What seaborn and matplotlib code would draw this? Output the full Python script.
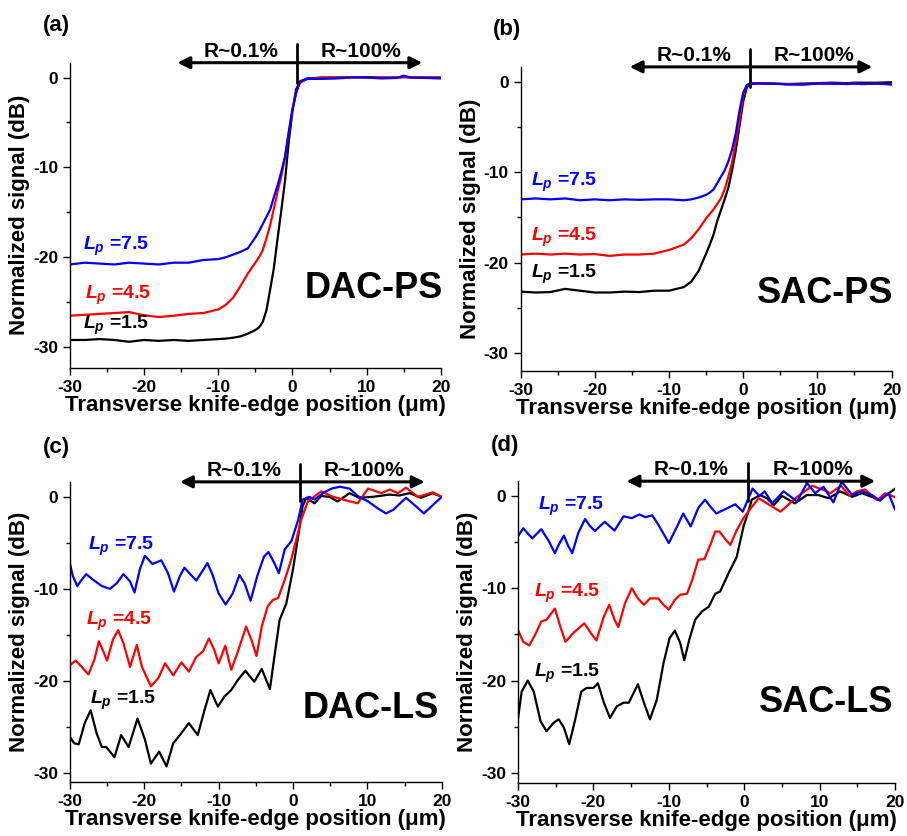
"""plot.py

Knife-edge scans for the four spot-size converters (DAC/SAC, PS/LS).

"""

import matplotlib
matplotlib.use("Agg")
import matplotlib.pyplot as plt
import matplotlib.transforms as mtransforms
import seaborn as sns

# Common x grid for the smooth PS scans (um)
ps_x = [-30, -28, -26, -24, -22, -20, -18, -16, -14, -12, -10, -9, -8, -7,
        -6, -5, -4.5, -4, -3.5, -3, -2.5, -2, -1.5, -1, -0.5, 0, 0.5, 1, 2,
        4, 6, 8, 10, 12, 14, 15, 16, 18, 20]

# (a) DAC-PS
dacps_15 = [-29.2, -29.2, -29.1, -29.2, -29.4, -29.2, -29.3, -29.2, -29.3,
            -29.2, -29.1, -29.05, -28.95, -28.8, -28.5, -28.1, -27.8, -27.2,
            -25.9, -23.6, -21.2, -17.9, -14.8, -11.5, -7.2, -3.8, -1.3, -0.5,
            -0.1, 0.0, 0.0, 0.05, 0.05, 0.0, 0.0, 0.05, 0.0, 0.0, 0.0]
dacps_45 = [-26.5, -26.4, -26.3, -26.2, -26.1, -26.45, -26.65, -26.5, -26.3,
            -26.2, -25.8, -25.3, -24.5, -23.2, -21.8, -20.6, -20.0, -19.2,
            -17.9, -16.4, -14.6, -12.7, -11.0, -8.9, -6.2, -3.5, -1.7, -0.6,
            -0.15, 0.0, 0.0, 0.05, 0.0, 0.0, 0.0, 0.05, 0.0, 0.0, 0.0]
dacps_75 = [-20.8, -20.6, -20.7, -20.8, -20.6, -20.7, -20.8, -20.6, -20.6,
            -20.3, -20.2, -20.0, -19.7, -19.4, -19.0, -17.8, -17.1, -16.3,
            -15.5, -14.7, -13.3, -12.0, -10.5, -8.8, -6.1, -3.6, -1.7, -0.4,
            -0.15, -0.15, -0.1, 0.0, 0.0, -0.1, -0.05, 0.2, 0.0, -0.05, -0.1]

# (b) SAC-PS
sacps_15 = [-23.2, -23.3, -23.25, -22.9, -23.1, -23.3, -23.3, -23.2, -23.25,
            -23.1, -23.1, -22.9, -22.7, -22.1, -20.9, -19.0, -18.0, -16.9,
            -15.4, -14.2, -13.0, -11.7, -9.8, -7.6, -4.9, -2.2, -0.6, -0.25,
            -0.15, -0.2, -0.25, -0.2, -0.15, -0.1, -0.15, -0.1, -0.1, -0.1,
            -0.05]
sacps_45 = [-19.1, -19.0, -19.1, -19.0, -19.1, -19.05, -19.25, -19.1, -19.1,
            -19.0, -18.6, -18.3, -18.0, -17.3, -16.3, -15.1, -14.6, -14.1,
            -13.5, -12.9, -11.9, -10.5, -8.9, -6.6, -4.3, -1.5, -0.4, -0.15,
            -0.15, -0.2, -0.25, -0.3, -0.2, -0.2, -0.2, -0.2, -0.25, -0.2,
            -0.25]
sacps_75 = [-13.0, -12.9, -13.0, -12.9, -13.1, -13.0, -13.1, -13.0, -13.05,
            -13.0, -13.0, -13.05, -13.1, -13.0, -12.8, -12.5, -12.25, -11.9,
            -11.2, -10.5, -9.8, -8.8, -7.5, -5.7, -3.2, -1.2, -0.35, -0.2,
            -0.2, -0.2, -0.3, -0.3, -0.2, -0.2, -0.25, -0.2, -0.25, -0.2,
            -0.3]

# (c) DAC-LS
dacls_x_15 = [-30, -29.4, -28.8, -28.0, -27.2, -26.4, -25.7, -25.1, -24.0,
              -23.1, -22.1, -20.9, -19.9, -19.1, -18.0, -17.0, -16.1, -15.2,
              -14.0, -12.8, -11.9, -11.1, -10.1, -9.2, -8.3, -7.4, -6.4,
              -5.2, -4.2, -3.1, -2.5, -1.8, -0.9, 0.0, 0.7, 1.3, 1.8, 2.9,
              3.8, 4.9, 6.0, 7.6, 8.9, 10.7, 13.0, 14.3, 15.7, 17.2, 18.8, 20]
dacls_y_15 = [-26.1, -26.8, -26.9, -24.6, -23.2, -25.7, -27.2, -27.2, -28.3,
              -25.9, -27.2, -24.1, -26.4, -29.0, -27.7, -29.3, -26.8, -25.9,
              -24.6, -25.9, -23.2, -21.0, -22.8, -21.7, -21.0, -19.9, -18.9,
              -20.1, -18.7, -20.9, -17.4, -13.4, -11.6, -7.9, -4.3, -1.0,
              -0.1, -0.7, 0.1, 0.0, -0.5, 0.4, -0.1, 0.0, 0.25, 0.15, 0.4,
              -0.1, 0.4, 0.0]
dacls_x_45 = [-30, -29.2, -28.4, -27.5, -26.7, -26.1, -25.5, -25.0, -24.2,
              -23.5, -22.8, -21.9, -21.0, -20.3, -19.1, -18.1, -17.2, -16.1,
              -15.0, -14.0, -13.0, -12.1, -11.3, -10.6, -10.0, -9.1, -8.3,
              -7.4, -6.3, -5.6, -4.9, -4.2, -3.4, -2.7, -2.0, -1.1, -0.3,
              0.4, 1.1, 2.0, 3.8, 5.4, 7.2, 8.7, 10.1, 11.9, 13.0, 14.1,
              15.2, 16.8, 18.8, 20]
dacls_y_45 = [-18.3, -17.8, -18.5, -19.3, -17.7, -15.7, -16.8, -17.8, -15.5,
              -14.5, -15.9, -18.5, -16.1, -18.5, -20.6, -19.7, -18.1, -19.4,
              -18.0, -19.0, -17.4, -16.8, -15.4, -16.6, -18.1, -16.2, -18.8,
              -16.8, -14.1, -15.5, -17.3, -14.1, -11.9, -11.2, -11.0, -9.0,
              -7.0, -4.8, -2.5, -0.5, 0.6, 0.0, -0.4, -0.7, 0.9, 0.4, 0.8,
              0.4, 1.0, 0.0, 0.5, 0.0]
dacls_x_75 = [-30, -29.6, -29.0, -28.4, -27.8, -26.9, -25.7, -24.6, -23.7,
              -22.8, -21.9, -21.3, -20.6, -19.9, -18.9, -17.7, -16.8, -16.0,
              -15.2, -14.6, -13.7, -13.0, -12.2, -11.5, -10.8, -10.0, -9.05,
              -8.1, -7.2, -6.5, -5.7, -4.8, -3.9, -3.3, -2.5, -1.9, -1.1,
              -0.2, 0.7, 1.3, 2.2, 2.9, 4.2, 5.2, 6.3, 7.6, 8.7, 10.1, 11.5,
              12.5, 13.5, 15.2, 16.5, 17.6, 18.8, 20]
dacls_y_75 = [-7.2, -8.6, -9.7, -9.0, -8.4, -9.0, -9.7, -10.0, -9.4, -8.4,
              -9.2, -10.4, -7.9, -6.4, -7.3, -6.9, -8.3, -10.3, -8.6, -7.7,
              -8.5, -9.1, -8.1, -7.2, -8.5, -10.5, -11.7, -10.5, -8.5, -9.4,
              -11.3, -8.6, -6.5, -6.0, -7.2, -8.3, -5.7, -4.8, -2.5, -0.3,
              0.0, -0.3, 0.5, 0.9, 1.1, 0.9, 0.1, -0.5, -1.3, -1.8, -1.4,
              -0.1, -1.0, -1.8, -0.9, 0.0]

# (d) SAC-LS
sacls_x_15 = [-30, -29.5, -28.7, -27.9, -27.0, -26.2, -25.3, -24.6, -23.9,
              -23.2, -22.4, -21.6, -20.9, -20.0, -19.4, -18.6, -17.8, -16.9,
              -16.0, -15.3, -14.1, -13.3, -12.5, -11.6, -10.7, -9.9, -9.2,
              -8.5, -7.95, -7.3, -6.5, -5.6, -4.7, -3.85, -3.2, -2.1, -1.0,
              -0.1, 0.5, 1.0, 2.1, 3.0, 3.9, 5.0, 6.7, 8.3, 9.8, 11.2, 12.7,
              14.3, 15.6, 16.9, 17.8, 19.1, 20]
sacls_y_15 = [-24.2, -21.2, -20.0, -21.2, -24.4, -25.5, -24.6, -24.2, -25.1,
              -26.9, -24.2, -21.2, -20.8, -20.8, -20.3, -22.4, -24.05, -22.8,
              -22.4, -22.4, -20.4, -22.4, -24.2, -22.1, -18.1, -15.4, -14.6,
              -15.9, -17.8, -15.6, -13.4, -12.5, -12.0, -10.6, -10.35, -8.4,
              -6.6, -3.3, -1.8, -0.4, 0.1, -0.25, -1.0, 0.0, -0.8, 0.1, 0.1,
              -0.25, 0.5, -0.1, 0.3, -0.1, -0.4, 0.25, 0.8]
sacls_x_45 = [-30, -29.3, -28.5, -27.7, -26.9, -26.2, -25.1, -24.4, -23.7,
              -22.6, -21.2, -20.3, -19.6, -18.6, -17.9, -17.2, -16.7, -15.8,
              -14.9, -14.1, -13.3, -12.5, -11.4, -10.7, -10.0, -9.2, -8.5,
              -7.6, -6.9, -6.1, -5.3, -4.5, -3.85, -3.3, -2.4, -1.85, -1.0,
              -0.1, 0.6, 1.9, 3.4, 4.8, 7.0, 9.0, 10.5, 11.4, 12.8, 14.0,
              14.9, 16.0, 17.6, 18.7, 20]
sacls_y_45 = [-14.5, -15.8, -16.2, -15.0, -13.6, -13.4, -12.2, -14.1, -15.8,
              -14.8, -13.8, -14.9, -15.65, -13.05, -11.8, -13.4, -14.2, -11.6,
              -10.0, -11.1, -11.8, -11.1, -11.1, -11.8, -12.3, -11.25, -10.7,
              -10.6, -9.1, -6.9, -6.85, -5.3, -3.85, -3.85, -4.8, -5.3, -3.7,
              -2.4, -1.6, -0.25, -1.0, -1.7, -0.1, 1.1, 0.65, 0.3, 1.1, 0.0,
              0.5, 0.7, -0.45, 0.3, -0.15]
sacls_x_75 = [-30, -29.3, -28.1, -26.9, -25.9, -25.1, -24.6, -23.9, -23.4,
              -22.8, -22.0, -21.1, -20.4, -19.8, -18.5, -17.2, -16.0, -14.9,
              -13.9, -13.1, -12.2, -11.4, -10.0, -8.9, -8.1, -7.6, -7.1, -6.1,
              -5.2, -4.5, -3.7, -2.7, -1.2, -0.2, 1.1, 2.0, 2.7, 3.7, 5.2,
              7.0, 8.3, 9.4, 10.5, 11.8, 12.9, 14.3, 15.6, 16.9, 18.0, 19.1,
              20]
sacls_y_75 = [-4.4, -3.5, -4.6, -3.6, -4.9, -6.2, -5.3, -4.3, -5.3, -6.2,
              -4.0, -2.5, -3.3, -3.8, -2.8, -3.75, -2.2, -2.4, -2.0, -2.3,
              -2.1, -3.1, -5.1, -3.3, -1.9, -2.6, -3.3, -1.3, -0.4, -1.15,
              -1.9, -1.5, -0.9, -1.7, 0.8, 0.0, 0.5, -0.8, 0.5, -0.6, 1.4,
              0.3, 1.0, -0.7, 1.55, 0.1, 0.5, 0.1, -0.5, 0.3, -1.5]

lp_labels = ["1.5", "4.5", "7.5"]
lp_colors = ["black", "red", "blue"]
panel_names = ["DAC-PS", "SAC-PS", "DAC-LS", "SAC-LS"]
panel_tags = ["(a)", "(b)", "(c)", "(d)"]


def draw_panel(ax, curves, name, label_pos, name_pos, ylim, divider_x):
    """Draw three Lp curves plus the R~0.1% / R~100% marker on one axes."""
    for (x, y), color in zip(curves, lp_colors):
        sns.lineplot(x=x, y=y, color=color, lw=1.6, ax=ax, sort=False,
                     estimator=None, solid_joinstyle="round")
    for (lx, ly), lab, color in zip(label_pos, lp_labels, lp_colors):
        ax.text(lx, ly, r"$L_p$ =" + lab, color=color, fontsize=14,
                fontweight="bold", ha="left", va="center")
    ax.text(name_pos[0], name_pos[1], name, fontsize=26, fontweight="bold",
            ha="center", va="center")

    ax.set_xlim(-30, 20)
    ax.set_ylim(*ylim)
    ax.set_xticks([-30, -20, -10, 0, 10, 20])
    ax.set_xticks([-25, -15, -5, 5, 15], minor=True)
    ax.set_yticks([-30, -20, -10, 0])
    ax.set_yticks([-25, -15, -5], minor=True)
    ax.tick_params(which="major", length=5, width=1, labelsize=12.5,
                   color="black", labelcolor="black")
    ax.tick_params(which="minor", length=3, width=1, color="black")
    for lab in ax.get_xticklabels() + ax.get_yticklabels():
        lab.set_fontweight("bold")
    sns.despine(ax=ax)
    ax.set_xlabel(u"Transverse knife-edge position (\u03bcm)", fontsize=16,
                  fontweight="bold", labelpad=0)
    ax.set_ylabel("Normalized signal (dB)", fontsize=16, fontweight="bold",
                  labelpad=2)

    # Divider and arrows above the curves
    trans = mtransforms.blended_transform_factory(ax.transData, ax.transAxes)
    left_x, mid_x, right_x = divider_x
    for tip in (left_x, right_x):
        ax.annotate("", xy=(tip, 1.0), xytext=(mid_x, 1.0), xycoords=trans,
                    textcoords=trans, annotation_clip=False,
                    arrowprops=dict(arrowstyle="-|>", lw=2.2, color="black",
                                    mutation_scale=18, shrinkA=0, shrinkB=0))
    ax.plot([mid_x, mid_x], [0.935, 1.06], color="black", lw=2,
            transform=trans, clip_on=False)
    ax.text(mid_x - 7.5, 1.038, "R~0.1%", transform=trans, fontsize=15,
            fontweight="bold", ha="center", va="center")
    ax.text(mid_x + 8.6, 1.038, "R~100%", transform=trans, fontsize=15,
            fontweight="bold", ha="center", va="center")


def run():
    sns.set_style("ticks")
    plt.rcParams["font.family"] = ["Liberation Sans", "DejaVu Sans"]
    plt.rcParams["mathtext.fontset"] = "custom"
    plt.rcParams["mathtext.it"] = "Liberation Sans:italic:bold"
    plt.rcParams["mathtext.rm"] = "Liberation Sans:bold"
    plt.rcParams["axes.unicode_minus"] = False
    plt.rcParams["text.color"] = "black"
    plt.rcParams["axes.labelcolor"] = "black"
    plt.rcParams["axes.edgecolor"] = "black"
    plt.rcParams["axes.linewidth"] = 1.0

    fig = plt.figure(figsize=(9.07, 8.36), dpi=100)
    rects = [[0.077, 0.560, 0.409, 0.365],
             [0.574, 0.556, 0.409, 0.364],
             [0.077, 0.0646, 0.410, 0.359],
             [0.571, 0.0634, 0.416, 0.361]]
    axes = [fig.add_axes(r) for r in rects]

    panels = [
        dict(curves=[(ps_x, dacps_15), (ps_x, dacps_45), (ps_x, dacps_75)],
             label_pos=[(-28.2, -27.6), (-28.0, -24.2), (-28.2, -18.75)],
             name_pos=(11.0, -23.5), ylim=(-32.3, 1.65),
             divider_x=(-15.5, 0.6, 17.5)),
        dict(curves=[(ps_x, sacps_15), (ps_x, sacps_45), (ps_x, sacps_75)],
             label_pos=[(-28.6, -21.35), (-28.6, -17.2), (-28.6, -11.15)],
             name_pos=(11.0, -23.4), ylim=(-32.0, 1.65),
             divider_x=(-15.3, 0.9, 17.4)),
        dict(curves=[(dacls_x_15, dacls_y_15), (dacls_x_45, dacls_y_45),
                     (dacls_x_75, dacls_y_75)],
             label_pos=[(-27.3, -22.1), (-27.8, -13.5), (-27.5, -5.4)],
             name_pos=(10.5, -23.0), ylim=(-31.0, 1.63),
             divider_x=(-15.2, 0.9, 17.7)),
        dict(curves=[(sacls_x_15, sacls_y_15), (sacls_x_45, sacls_y_45),
                     (sacls_x_75, sacls_y_75)],
             label_pos=[(-27.9, -19.2), (-27.9, -10.6), (-27.4, -1.15)],
             name_pos=(10.9, -22.4), ylim=(-31.1, 1.6),
             divider_x=(-15.6, 0.5, 17.35)),
    ]
    for ax, name, spec in zip(axes, panel_names, panels):
        draw_panel(ax, spec["curves"], name, spec["label_pos"],
                   spec["name_pos"], spec["ylim"], spec["divider_x"])

    tag_pos = [(56, 25), (507, 30), (56, 447), (505, 445)]
    for (px, py), tag in zip(tag_pos, panel_tags):
        fig.text(px / 907.0, 1 - py / 836.0, tag, fontsize=16,
                 fontweight="bold", ha="center", va="center")

    fig.savefig("out.png", dpi=100)


if __name__ == "__main__":
    run()
